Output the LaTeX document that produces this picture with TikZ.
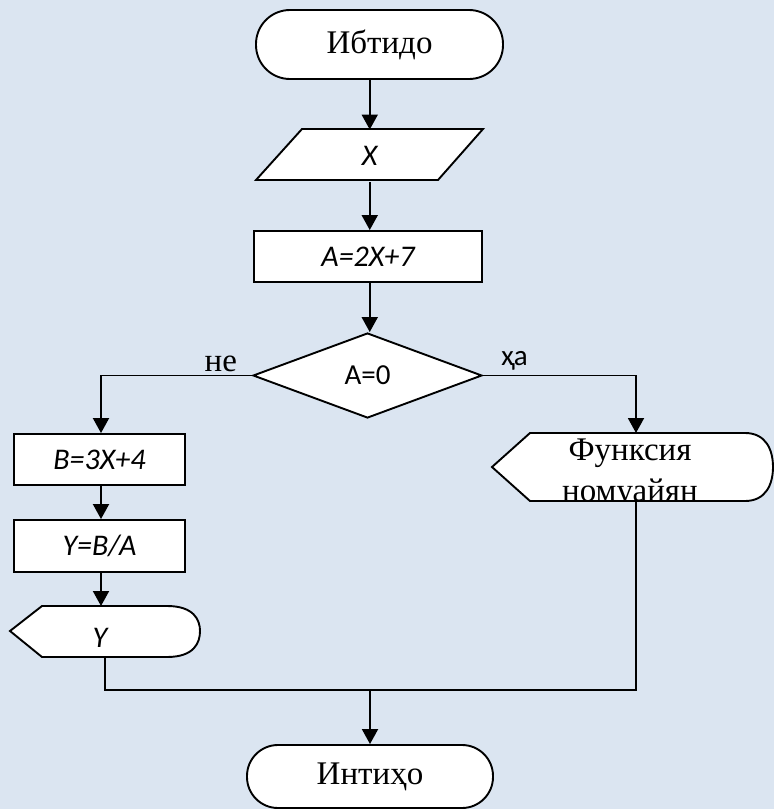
\documentclass[tikz,border=0pt]{standalone}
\usepackage{fontspec}
\setmainfont{Liberation Serif}
\newfontfamily\calib{Carlito}
\usetikzlibrary{shapes.geometric,arrows.meta}
\definecolor{bg}{RGB}{219,229,241}
\begin{document}
\begin{tikzpicture}[x=1pt,y=-1pt,
  line width=1.9pt,
  serif/.style={font=\fontsize{33}{41}\selectfont},
  sansit/.style={font=\calib\itshape\fontsize{30}{34}\selectfont},
  sansup/.style={font=\calib\fontsize{29}{34}\selectfont},
  boxst/.style={draw,fill=white,rectangle,inner sep=0pt},
  arr/.style={-{Triangle[length=15pt,width=16pt]}},
  shp/.style={draw,fill=white,line join=miter}
  ]
\fill[bg] (0,0) rectangle (774,809);
\useasboundingbox (0,0) rectangle (774,809);

% start
\node[boxst, rounded corners=34pt, minimum width=247pt, minimum height=69pt, serif] (start) at (379.5,44.5) {Ибтидо};

% input parallelogram
\draw[shp] (302,129) -- (483,129) -- (438,180) -- (256,180) -- cycle;
\node[sansit, minimum height=51pt, inner sep=0pt] (inp) at (369.75,156) {X};

% process A
\node[boxst, minimum width=228pt, minimum height=51pt, sansit] (ra) at (368,256.5) {A=2X+7};

% decision
\node[diamond, draw, fill=white, minimum width=229pt, minimum height=85pt, inner sep=0pt, sansup] (dec) at (367.5,375.5) {A=0};
\node[serif, anchor=base east, inner sep=0pt] (no) at (238,371) {не};
\node[sansup, anchor=base west, inner sep=0pt] (yes) at (500,365) {ҳа};

% left branch
\node[boxst, minimum width=171pt, minimum height=51pt, sansit] (bb) at (99.5,459.5) {B=3X+4};
\node[boxst, minimum width=171pt, minimum height=52pt, sansit] (yb) at (99.5,546) {Y=B/A};
\draw[shp] (10,631) -- (42,606) -- (167,606) .. controls (194,606) and (200,620) .. (200,631)
  .. controls (200,643) and (194,657) .. (167,657) -- (42,657) -- cycle;
\node[sansit, inner sep=0pt] (outy) at (100,638) {Y};
\coordinate (outtop) at (101,606);
\coordinate (outbot) at (105,657);

% right branch
\fill[white] (492,467) -- (530,433) -- (745,433) .. controls (766,433) and (773,450) .. (773,467)
  .. controls (773,484) and (766,501) .. (745,501) -- (530,501) -- cycle;
\begin{scope}
\clip (492,467) -- (530,433) -- (745,433) .. controls (766,433) and (773,450) .. (773,467)
  .. controls (773,484) and (766,501) .. (745,501) -- (530,501) -- cycle;
\node[serif, align=center, inner sep=0pt] (fn) at (630,474) {Функсия\\номуайян};
\end{scope}
\draw[line join=miter] (492,467) -- (530,433) -- (745,433) .. controls (766,433) and (773,450) .. (773,467)
  .. controls (773,484) and (766,501) .. (745,501) -- (530,501) -- cycle;
\coordinate (fntop) at (636,433);
\coordinate (fnbot) at (636,501);

% end
\node[boxst, rounded corners=31pt, minimum width=246pt, minimum height=63pt, serif] (end) at (370,776.5) {Интиҳо};

% connectors
\coordinate (ln) at (101,375.5);
\coordinate (rn) at (636,375.5);
\coordinate (jl) at (105,690);
\coordinate (jr) at (636,690);
\draw[arr] (start.south -| inp.center) -- (inp.north);
\draw[arr] (inp.south) -- (ra.north -| inp.south);
\draw[arr] (ra.south -| inp.south) -- (dec.north -| inp.south);
\draw[arr] (dec.west) -- (ln) -- (ln |- bb.north);
\draw[arr] (dec.east) -- (rn) -- (fntop);
\draw[arr] (bb.south -| ln) -- (yb.north -| ln);
\draw[arr] (yb.south -| ln) -- (outtop);
\draw (outbot) -- (jl) -- (jr) -- (fnbot);
\draw[arr] (jl -| end.north) -- (end.north);
\end{tikzpicture}
\end{document}
